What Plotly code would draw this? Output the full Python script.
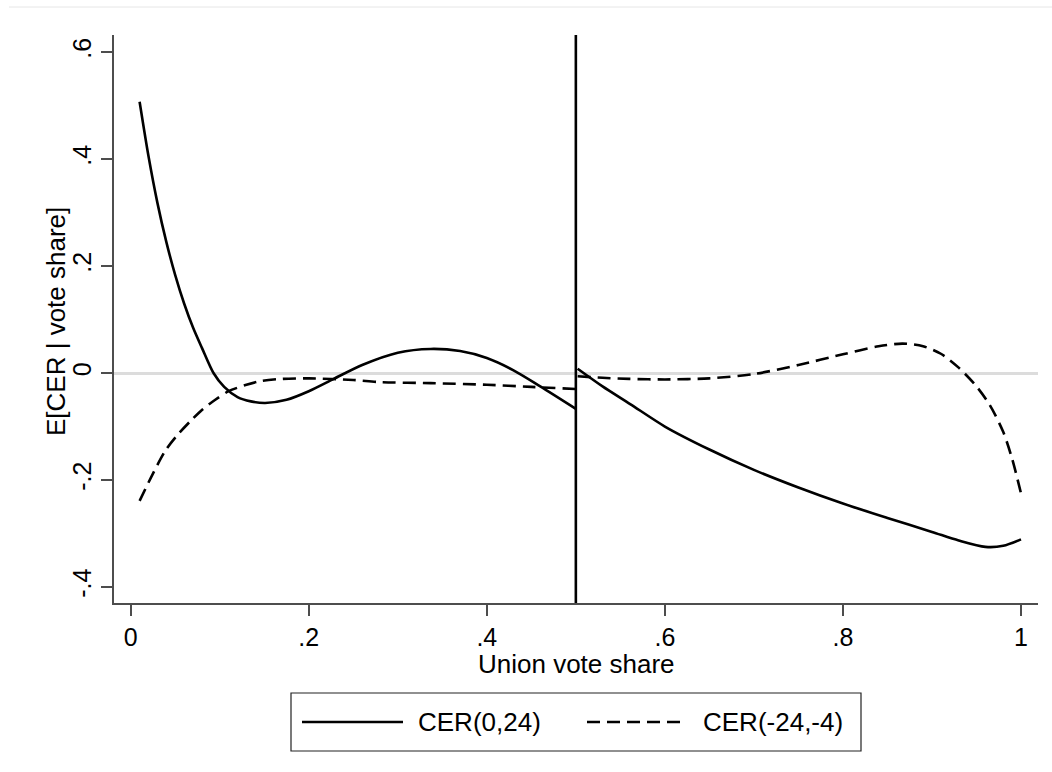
import plotly.graph_objects as go

# ---------------- data ----------------
x_solid_left = [0.01, 0.02, 0.03, 0.04, 0.05, 0.06, 0.07, 0.08, 0.093, 0.105, 0.12, 0.135, 0.151, 0.175, 0.2, 0.228, 0.26, 0.3, 0.337, 0.37, 0.4, 0.43, 0.46, 0.5]
y_solid_left = [0.507, 0.405, 0.318, 0.245, 0.183, 0.13, 0.085, 0.047, 0.0, -0.026, -0.045, -0.053, -0.056, -0.05, -0.034, -0.011, 0.015, 0.038, 0.045, 0.041, 0.028, 0.005, -0.025, -0.067]

x_solid_right = [0.502, 0.53, 0.561, 0.6, 0.65, 0.7, 0.75, 0.8, 0.85, 0.9, 0.93, 0.96, 0.98, 1.0]
y_solid_right = [0.008, -0.025, -0.058, -0.1, -0.143, -0.181, -0.214, -0.244, -0.271, -0.297, -0.313, -0.325, -0.323, -0.311]

x_dash_left = [0.01, 0.025, 0.039, 0.053, 0.067, 0.08, 0.095, 0.11, 0.13, 0.146, 0.17, 0.2, 0.25, 0.28, 0.337, 0.4, 0.45, 0.5]
y_dash_left = [-0.239, -0.188, -0.145, -0.115, -0.09, -0.069, -0.05, -0.034, -0.022, -0.015, -0.011, -0.01, -0.013, -0.017, -0.019, -0.022, -0.026, -0.03]

x_dash_right = [0.502, 0.53, 0.56, 0.6, 0.65, 0.7, 0.75, 0.8, 0.84, 0.867, 0.89, 0.91, 0.93, 0.95, 0.965, 0.98, 0.99, 1.0]
y_dash_right = [-0.006, -0.009, -0.011, -0.012, -0.01, -0.002, 0.015, 0.035, 0.05, 0.055, 0.05, 0.036, 0.01, -0.025, -0.06, -0.11, -0.16, -0.225]

cutoff = 0.5
x_ticks = [0, 0.2, 0.4, 0.6, 0.8, 1]
x_tick_labels = ["0", ".2", ".4", ".6", ".8", "1"]
y_ticks = [-0.4, -0.2, 0, 0.2, 0.4, 0.6]
y_tick_labels = ["-.4", "-.2", "0", ".2", ".4", ".6"]
series_names = ["CER(0,24)", "CER(-24,-4)"]
x_title = "Union vote share"
y_title = "E[CER | vote share]"

# ---------------- layout helpers ----------------
W, H = 1052, 772
L, R, T, B = 114, 14, 35, 169
PW, PH = W - L - R, H - T - B


def px(xp):
    return (xp - L) / PW


def py(yp):
    return (H - B - yp) / PH


FONT = "Liberation Sans, Arial, sans-serif"
AX = "#4d4d4d"
DASH = "13px,7px"
LW = 2.6

fig = go.Figure()
fig.add_trace(go.Scatter(x=x_solid_left, y=y_solid_left, mode="lines", name=series_names[0],
                         line=dict(color="black", width=LW, shape="spline", smoothing=0.8), showlegend=False))
fig.add_trace(go.Scatter(x=x_solid_right, y=y_solid_right, mode="lines", name=series_names[0],
                         line=dict(color="black", width=LW, shape="spline", smoothing=0.8), showlegend=False))
fig.add_trace(go.Scatter(x=x_dash_left, y=y_dash_left, mode="lines", name=series_names[1],
                         line=dict(color="black", width=LW, dash=DASH, shape="spline", smoothing=0.8), showlegend=False))
fig.add_trace(go.Scatter(x=x_dash_right, y=y_dash_right, mode="lines", name=series_names[1],
                         line=dict(color="black", width=LW, dash=DASH, shape="spline", smoothing=0.8), showlegend=False))

shapes = [
    # cutoff line
    dict(type="line", xref="x", yref="paper", x0=cutoff, x1=cutoff, y0=0, y1=1,
         line=dict(color="black", width=2.6)),
    # outer graph border (top)
    dict(type="line", xref="paper", yref="paper", x0=px(9), x1=px(1060), y0=py(7), y1=py(7),
         line=dict(color="#e6e6e6", width=1)),
    # legend box
    dict(type="rect", xref="paper", yref="paper", x0=px(291), x1=px(861), y0=py(693), y1=py(751),
         line=dict(color="#222222", width=1.2), fillcolor="white"),
    dict(type="line", xref="paper", yref="paper", x0=px(302), x1=px(403), y0=py(722), y1=py(722),
         line=dict(color="black", width=LW)),
    dict(type="line", xref="paper", yref="paper", x0=px(587), x1=px(686), y0=py(722), y1=py(722),
         line=dict(color="black", width=LW, dash=DASH)),
]

annotations = [
    dict(text=series_names[0], xref="paper", yref="paper", x=px(416), y=py(722), xanchor="left", yanchor="middle",
         showarrow=False, font=dict(family=FONT, size=26, color="black")),
    dict(text=series_names[1], xref="paper", yref="paper", x=px(701), y=py(722), xanchor="left", yanchor="middle",
         showarrow=False, font=dict(family=FONT, size=26, color="black")),
    dict(text=x_title, xref="paper", yref="paper", x=0.5, y=py(664), xanchor="center", yanchor="middle",
         showarrow=False, font=dict(family=FONT, size=26, color="black")),
    dict(text=y_title, xref="paper", yref="paper", x=px(56), y=py(322), xanchor="center", yanchor="middle",
         textangle=-90, showarrow=False, font=dict(family=FONT, size=26, color="black")),
]

fig.update_layout(
    width=W, height=H, autosize=False,
    margin=dict(l=L, r=R, t=T, b=B, pad=0),
    paper_bgcolor="white", plot_bgcolor="white",
    font=dict(family=FONT, size=25, color="black"),
    showlegend=False,
    shapes=shapes,
    annotations=annotations,
    xaxis=dict(range=[-0.01876, 1.0191], tickvals=x_ticks, ticktext=x_tick_labels,
               showgrid=False, zeroline=False, showline=True, linecolor=AX, linewidth=1.5,
               ticks="outside", ticklen=11, tickwidth=1.5, tickcolor=AX,
               tickfont=dict(family=FONT, size=25, color="black")),
    yaxis=dict(range=[-0.4299, 0.6318], tickvals=y_ticks, ticktext=y_tick_labels,
               showgrid=False, zeroline=True, zerolinecolor="#dcdcdc", zerolinewidth=3,
               showline=True, linecolor=AX, linewidth=1.5,
               ticks="outside", ticklen=11, tickwidth=1.5, tickcolor=AX, tickangle=-90,
               tickfont=dict(family=FONT, size=25, color="black")),
)

fig.write_html("out.html")
